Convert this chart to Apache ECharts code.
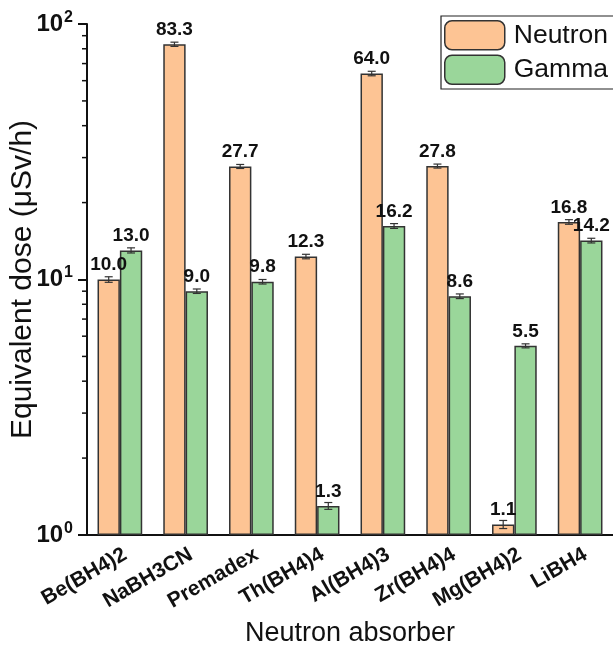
<!DOCTYPE html>
<html>
<head>
<meta charset="utf-8">
<script src="https://cdn.jsdelivr.net/npm/echarts@6/dist/echarts.min.js"></script>
<style>html,body{margin:0;padding:0;background:#fff}#c{width:613px;height:646px}</style>
</head>
<body>
<div id="c"></div>
<script>
var categories = ['Be(BH4)2','NaBH3CN','Premadex','Th(BH4)4','Al(BH4)3','Zr(BH4)4','Mg(BH4)2','LiBH4'];
var neutron = [10.0, 83.3, 27.7, 12.3, 64.0, 27.8, 1.1, 16.8];
var gamma = [13.0, 9.0, 9.8, 1.3, 16.2, 8.6, 5.5, 14.2];
var neutronErr = [0.25, 1.6, 0.5, 0.25, 1.3, 0.5, 0.04, 0.35];
var gammaErr = [0.3, 0.18, 0.2, 0.04, 0.35, 0.18, 0.1, 0.3];
var minorTickValues = [2,3,4,5,6,7,8,9,20,30,40,50,60,70,80,90];

var FONT = "'Liberation Sans', Arial, sans-serif";
var BAR_RATIO = 0.34;

function errData(vals, errs){
  return vals.map(function(v,i){ return [i, v, errs[i]]; });
}
function errRender(side){
  return function(params, api){
    var i = api.value(0), v = api.value(1), e = api.value(2);
    var band = api.size([1, 0])[0];
    var bw = band * BAR_RATIO;
    var x = api.coord([i, v])[0] + side * bw / 2;
    var yt = api.coord([i, v + e])[1];
    var yb = api.coord([i, v - e])[1];
    var cap = 4;
    var st = {stroke: '#333', lineWidth: 1.2};
    return {type: 'group', children: [
      {type: 'line', shape: {x1: x, y1: yt, x2: x, y2: yb}, style: st},
      {type: 'line', shape: {x1: x - cap, y1: yt, x2: x + cap, y2: yt}, style: st},
      {type: 'line', shape: {x1: x - cap, y1: yb, x2: x + cap, y2: yb}, style: st}
    ]};
  };
}

var chart = echarts.init(document.getElementById('c'), null, {renderer: 'canvas'});
chart.setOption({
  animation: false,
  textStyle: {fontFamily: FONT},
  grid: {left: 87, top: 24, right: 0, bottom: 111, containLabel: false, outerBoundsMode: 'none'},
  legend: {
    data: ['Neutron', 'Gamma'],
    orient: 'vertical',
    left: 441, top: 16,
    itemWidth: 60, itemHeight: 29, itemGap: 4,
    padding: [4, 12, 4, 3],
    borderColor: '#222', borderWidth: 1.2,
    textStyle: {fontSize: 26.5, color: '#111', fontFamily: FONT, padding: [0, 0, 0, 4]},
    itemStyle: {borderColor: '#333', borderWidth: 1.5}
  },
  xAxis: {
    type: 'category',
    data: categories,
    name: 'Neutron absorber',
    nameLocation: 'middle',
    nameGap: 85,
    nameMoveOverlap: false,
    nameTextStyle: {fontSize: 27, color: '#111', fontFamily: FONT},
    axisLine: {lineStyle: {color: '#111', width: 2}},
    axisTick: {alignWithLabel: true, length: 9, lineStyle: {color: '#111', width: 2}},
    axisLabel: {interval: 0, rotate: 30, fontSize: 21, fontWeight: 'bold', color: '#111', margin: 9,
      verticalAlign: 'top', fontFamily: FONT}
  },
  yAxis: {
    type: 'log',
    logBase: 10,
    min: 1, max: 100,
    name: 'Equivalent dose (\u03bcSv/h)',
    nameLocation: 'middle',
    nameGap: 49,
    nameMoveOverlap: false,
    nameTextStyle: {fontSize: 30, color: '#111', fontFamily: FONT},
    axisLine: {show: true, lineStyle: {color: '#111', width: 2}},
    axisTick: {show: true, length: 9, lineStyle: {color: '#111', width: 2}},
    splitLine: {show: false},
    axisLabel: {
      margin: 14,
      formatter: function(v){ return '{b|10}{s|' + Math.round(Math.log10(v)) + '}'; },
      rich: {
        b: {fontSize: 24, fontWeight: 'bold', color: '#111', fontFamily: FONT},
        s: {fontSize: 16, fontWeight: 'bold', color: '#111', fontFamily: FONT, padding: [0, 0, 13, 1]}
      }
    }
  },
  series: [
    {
      name: 'Neutron', type: 'bar', data: neutron,
      barWidth: (BAR_RATIO * 100) + '%', barGap: '0%',
      itemStyle: {color: '#FDC494', borderColor: '#333', borderWidth: 1.5},
      label: {show: true, position: 'top', distance: 5, fontSize: 19, fontWeight: 'bold', color: '#111', fontFamily: FONT,
        formatter: function(p){ return p.value.toFixed(1); }}
    },
    {
      name: 'Gamma', type: 'bar', data: gamma,
      barWidth: (BAR_RATIO * 100) + '%', barGap: '0%',
      itemStyle: {color: '#9AD69A', borderColor: '#333', borderWidth: 1.5},
      label: {show: true, position: 'top', distance: 5, fontSize: 19, fontWeight: 'bold', color: '#111', fontFamily: FONT,
        formatter: function(p){ return p.value.toFixed(1); }}
    },
    {
      name: 'NeutronErr', type: 'custom', data: errData(neutron, neutronErr),
      encode: {x: 0, y: 1}, renderItem: errRender(-1), z: 5, silent: true
    },
    {
      name: 'GammaErr', type: 'custom', data: errData(gamma, gammaErr),
      encode: {x: 0, y: 1}, renderItem: errRender(1), z: 5, silent: true
    },
    {
      name: 'minorTicks', type: 'custom', clip: false, silent: true, z: 5,
      data: minorTickValues.map(function(v){ return [0, v]; }),
      encode: {x: 0, y: 1},
      renderItem: function(params, api){
        var y = api.coord([0, api.value(1)])[1];
        var x0 = params.coordSys.x;
        return {type: 'line', shape: {x1: x0 - 5, y1: y, x2: x0, y2: y}, style: {stroke: '#111', lineWidth: 1.5}};
      }
    }
  ]
});
</script>
</body>
</html>
